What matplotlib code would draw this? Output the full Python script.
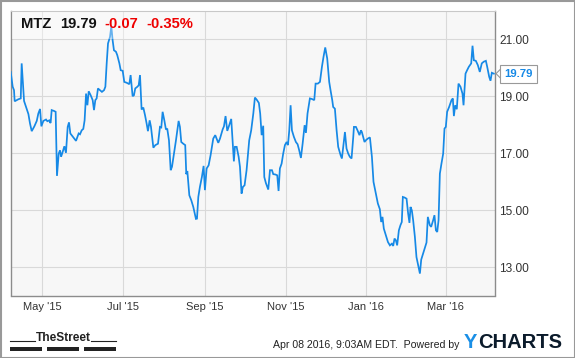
import datetime as dt
import numpy as np
import matplotlib
matplotlib.use("Agg")
import matplotlib.pyplot as plt
import matplotlib.dates as mdates
from matplotlib import font_manager
from matplotlib.lines import Line2D
from matplotlib.patches import Rectangle

plt.rcParams['font.family'] = ['Liberation Sans', 'DejaVu Sans']

# MTZ daily close, days counted from 2015-04-07
start_date = dt.datetime(2015, 4, 7)
days = [0, 1.5, 2.5, 3.0, 5.8, 7.6, 8.3, 9.1, 10.1, 11.6, 13.4, 14.6, 15.9, 17.9, 19.7,
        20.9, 22.2, 23.2, 24.7, 26.7, 27.7, 29.2, 29.7, 30.2, 31.0, 32.8, 34.0, 35.0, 36.3,
        37.3, 38.1, 39.3, 40.6, 41.8, 43.1, 44.1, 45.1, 47.4, 49.4, 51.4, 52.4, 53.7, 54.9,
        55.9, 57.0, 58.0, 59.0, 60.5, 62.0, 63.0, 64.0, 65.0, 66.0, 67.5, 69.0, 70.6, 71.6,
        72.6, 73.6, 75.1, 76.1, 77.1, 78.1, 79.6, 80.6, 82.2, 83.2, 84.7, 85.9, 87.7, 89.7,
        90.7, 92.2, 93.2, 94.2, 95.8, 96.8, 97.8, 99.0, 100.3, 101.6, 102.8, 103.8, 105.1,
        106.1, 107.9, 109.4, 111.4, 112.9, 113.9, 114.9, 116.2, 117.4, 118.4, 119.7, 121.0,
        122.0, 123.5, 125.0, 127.0, 128.0, 129.0, 130.5, 132.0, 132.8, 133.6, 135.1, 136.6,
        138.1, 140.1, 140.9, 141.9, 143.1, 144.6, 145.9, 146.9, 148.2, 149.7, 151.2, 153.2,
        154.7, 155.7, 157.0, 158.3, 160.3, 161.3, 162.5, 163.8, 165.3, 166.8, 167.8, 168.8,
        169.6, 170.9, 172.4, 173.4, 174.6, 175.6, 176.9, 178.4, 180.4, 181.9, 183.5, 184.7,
        186.0, 187.7, 188.7, 189.8, 191.0, 191.8, 193.0, 194.8, 196.1, 197.6, 198.6, 200.1,
        201.6, 202.6, 203.6, 204.9, 206.1, 207.4, 208.7, 209.7, 210.7, 211.7, 212.7, 214.2,
        215.7, 217.0, 218.2, 219.5, 220.8, 222.3, 223.3, 224.5, 226.3, 227.8, 229.6, 230.6,
        232.3, 233.9, 235.4, 236.6, 237.9, 239.4, 240.9, 241.9, 243.2, 243.9, 245.2, 246.5,
        247.7, 249.5, 250.5, 251.5, 252.8, 254.0, 255.3, 256.5, 257.8, 259.1, 259.6, 261.1,
        262.3, 263.8, 264.9, 265.6, 266.6, 267.6, 268.6, 270.1, 271.7, 273.2, 274.4, 276.2,
        277.7, 279.2, 280.2, 281.2, 282.2, 283.8, 285.3, 286.8, 288.3, 289.3, 290.3, 291.3,
        292.3, 293.6, 294.8, 295.8, 296.6, 297.9, 299.4, 300.6, 301.6, 302.4, 303.4, 304.4,
        305.7, 306.9, 308.2, 309.5, 310.5, 312.0, 313.5, 314.5, 315.5, 317.0, 318.0, 319.5,
        320.5, 321.6, 322.6, 323.6, 324.6, 325.8, 327.1, 328.1, 329.1, 330.1, 331.6, 333.4,
        334.4, 335.2, 336.2, 337.4, 338.7, 340.2, 341.7, 342.5, 344.0, 345.2, 346.5, 348.3,
        349.3, 350.3, 351.8, 353.3, 354.8, 356.3, 357.8, 359.4, 360.4, 361.9, 362.9, 363.9,
        365.4]
prices = [19.85, 19.33, 19.21, 18.82, 18.89, 18.92, 20.15, 19.56, 18.83, 18.62, 18.37, 18.04,
          17.77, 17.94, 18.13, 18.39, 18.55, 17.94, 18.13, 18.18, 18.12, 18.15, 18.08, 18.06,
          18.51, 18.48, 18.45, 16.20, 16.98, 17.10, 16.87, 17.04, 17.24, 17.01, 17.92, 18.08,
          17.69, 17.55, 17.43, 17.69, 17.66, 17.80, 17.85, 18.15, 19.09, 18.68, 19.17, 19.03,
          18.86, 18.51, 18.86, 18.92, 19.27, 19.21, 19.15, 19.21, 19.33, 20.15, 20.85, 21.08,
          21.45, 20.96, 20.61, 20.56, 20.44, 20.15, 19.91, 19.89, 19.50, 19.47, 19.42, 19.74,
          19.00, 19.03, 19.27, 19.33, 19.38, 19.74, 18.53, 18.60, 18.33, 18.04, 17.77, 18.15,
          17.92, 17.19, 17.28, 17.33, 17.92, 17.90, 18.45, 18.15, 17.83, 17.86, 17.45, 16.40,
          16.52, 16.98, 17.45, 18.13, 17.92, 17.39, 17.33, 17.28, 16.26, 16.37, 15.52, 15.34,
          15.11, 14.69, 14.70, 15.46, 15.81, 16.16, 16.55, 15.70, 16.46, 16.57, 16.93, 17.51,
          17.63, 17.51, 17.36, 17.51, 17.83, 17.94, 18.30, 17.78, 17.98, 18.20, 17.45, 16.71,
          17.22, 17.22, 16.87, 16.52, 15.58, 15.81, 15.87, 16.40, 17.45, 17.80, 18.39, 18.95,
          18.88, 18.76, 18.39, 17.63, 17.96, 16.16, 15.95, 15.72, 16.40, 16.40, 16.26, 16.25,
          16.22, 15.67, 16.46, 16.63, 16.98, 17.28, 17.39, 17.28, 17.80, 18.68, 17.80, 17.57,
          17.39, 17.31, 17.10, 16.83, 17.33, 17.98, 17.71, 18.39, 18.92, 18.90, 18.86, 19.44,
          19.44, 19.50, 20.03, 20.38, 20.71, 20.32, 19.50, 19.21, 18.86, 18.62, 18.56, 17.80,
          17.22, 16.93, 16.81, 17.22, 17.74, 17.16, 16.98, 16.87, 16.81, 17.57, 17.92, 17.92,
          17.80, 17.63, 17.80, 17.74, 17.57, 17.39, 17.45, 17.51, 17.55, 16.87, 15.99, 15.58,
          15.23, 15.03, 14.58, 14.76, 14.35, 14.11, 13.88, 13.76, 13.82, 13.74, 14.00, 13.94,
          13.76, 14.29, 14.47, 14.58, 15.46, 15.44, 15.40, 14.88, 14.55, 15.11, 14.99, 14.64,
          14.06, 13.35, 13.06, 12.77, 13.26, 13.49, 13.73, 13.86, 14.76, 14.47, 14.41, 14.64,
          14.82, 14.29, 14.23, 14.64, 16.28, 16.63, 16.98, 17.86, 17.92, 18.45, 18.62, 18.86,
          18.92, 18.30, 18.68, 18.54, 19.44, 19.33, 19.09, 18.68, 19.79, 19.91, 20.03, 20.15,
          20.77, 20.26, 20.24, 20.09, 19.85, 20.15, 20.21, 20.24, 20.03, 19.68, 19.54, 19.82,
          19.79]

y_ticks = [13, 15, 17, 19, 21]
ticker = "MTZ"
last_price = "19.79"
change = "-0.07"
change_pct = "-0.35%"
stamp = "Apr 08 2016, 9:03AM EDT.  Powered by"

line_blue = '#1689e6'
W, H = 575, 358

fig = plt.figure(figsize=(W / 100, H / 100), dpi=100)
fig.patch.set_facecolor('white')


def fx(px):
    return px / W


def fy(py):
    return 1 - py / H


ax = fig.add_axes([fx(10.7), fy(295.5), fx(495) - fx(10.7), fy(10.7) - fy(295.5)])
ax.set_facecolor('#f7f7f7')

t0 = mdates.date2num(start_date)
x = t0 + np.array(days)
ax.plot(x, prices, color=line_blue, lw=1.25, solid_joinstyle='miter', zorder=3)

ax.set_xlim(t0, t0 + 366.3)
ax.set_ylim(12.0, 22.0)

ax.xaxis.set_major_locator(mdates.MonthLocator(bymonth=[1, 3, 5, 7, 9, 11]))
ax.xaxis.set_major_formatter(mdates.DateFormatter("%b '%y"))
ax.set_yticks(y_ticks)
ax.yaxis.set_major_formatter(plt.FuncFormatter(lambda v, p: f"{v:.2f}"))
ax.yaxis.tick_right()
ax.tick_params(axis='y', length=0, pad=3, labelsize=8.6, labelcolor='#333333')
ax.tick_params(axis='x', length=0, pad=4.5, labelsize=8.0, labelcolor='#333333')
ax.grid(True, color='#d9d9d9', lw=0.8, zorder=0)
ax.set_axisbelow(True)

for side in ['left', 'bottom', 'right']:
    ax.spines[side].set_color('#8c8c8c')
    ax.spines[side].set_linewidth(1.0)
ax.spines['top'].set_color('#c8c8c8')
ax.spines['top'].set_linewidth(0.8)

# header box + texts
fig.add_artist(Rectangle((fx(11.5), fy(38.5)), fx(200) - fx(11.5), fy(11.5) - fy(38.5),
                         transform=fig.transFigure, facecolor='white', alpha=0.35,
                         edgecolor='none', zorder=4))
hy = fy(24.5)
fig.text(fx(21.5), hy, ticker, fontsize=10.6, fontweight='bold', color='#111111', va='center', zorder=5)
fig.text(fx(60.5), hy, last_price, fontsize=10.6, fontweight='bold', color='#111111', va='center', zorder=5)
fig.text(fx(104), hy, change, fontsize=10.6, fontweight='bold', color='#ee0000', va='center', zorder=5)
fig.text(fx(146), hy, change_pct, fontsize=10.6, fontweight='bold', color='#ee0000', va='center', zorder=5)

# last value tag on the right axis
yy = 19.79
y_px = fig.transFigure.inverted().transform(ax.transData.transform((t0, yy)))[1]
tag = Rectangle((fx(500), y_px - 9 / H), fx(537) - fx(500), 18 / H, transform=fig.transFigure,
                facecolor='white', edgecolor='#999999', lw=0.8, zorder=6)
fig.add_artist(tag)
fig.add_artist(Line2D([fx(500), fx(496), fx(500)], [y_px + 4 / H, y_px, y_px - 4 / H],
                      transform=fig.transFigure, color='#999999', lw=0.8, zorder=7))
fig.text(fx(518.5), y_px, last_price, fontsize=8.2, fontweight='bold', color=line_blue,
         ha='center', va='center', zorder=8)

# footer: TheStreet logo (condensed face if there is one)
names = {f.name for f in font_manager.fontManager.ttflist}
if 'Liberation Sans Narrow' in names:
    logo_font, logo_size = 'Liberation Sans Narrow', 10.3
else:
    logo_font, logo_size = 'Liberation Sans', 8.6
fig.text(fx(63), fy(341), "TheStreet", fontsize=logo_size, fontweight='bold', color='#222222',
         ha='center', va='baseline', family=logo_font)
for x0, x1 in [(10, 35), (91, 116)]:
    fig.add_artist(Line2D([fx(x0), fx(x1)], [fy(340.7), fy(340.7)], transform=fig.transFigure,
                          color='#222222', lw=0.8))
for x0, x1 in [(10, 42), (47, 79), (84, 116)]:
    fig.add_artist(Rectangle((fx(x0), fy(350.7)), fx(x1) - fx(x0), 3.4 / H,
                             transform=fig.transFigure, facecolor='#222222', edgecolor='none'))

# footer: timestamp and YCHARTS
fig.text(fx(459), fy(344.5), stamp, fontsize=7.6, color='#222222', ha='right', va='center')
ty = fig.text(fx(464), fy(342.5), "Y", fontsize=14.5, fontweight='bold', color='#1a8fe6', va='center')
fig.canvas.draw()
bb = ty.get_window_extent(renderer=fig.canvas.get_renderer())
fig.text(bb.x1 / W + fx(0.5), fy(342.5), "CHARTS", fontsize=14.5, fontweight='bold',
         color='#0b1b2b', va='center')

# outer border
fig.add_artist(Rectangle((0.5 / W, 0.5 / H), 1 - 1 / W, 1 - 1 / H, transform=fig.transFigure,
                         fill=False, edgecolor='#999999', lw=1.5))

fig.savefig('out.png', dpi=100, facecolor='white')
